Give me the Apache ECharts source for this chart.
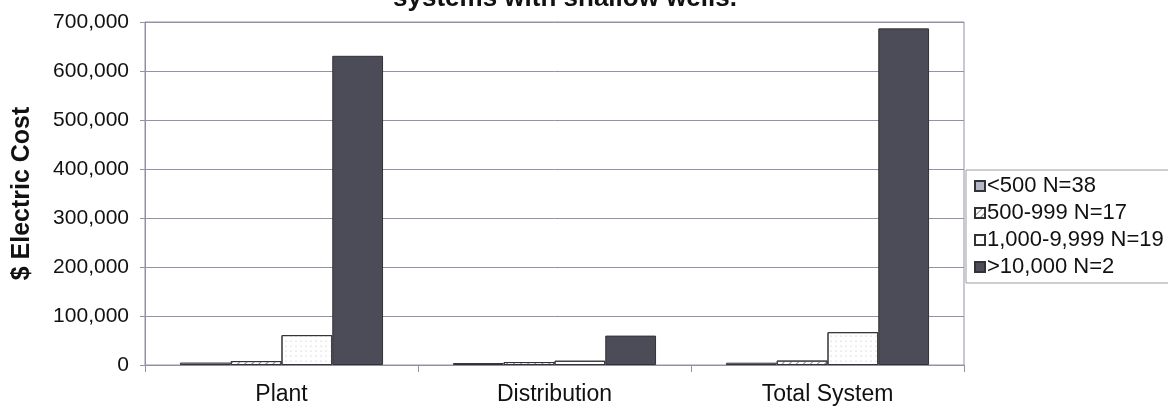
<!DOCTYPE html>
<html>
<head>
<meta charset="utf-8">
<script src="https://cdn.jsdelivr.net/npm/echarts@6/dist/echarts.min.js"></script>
<style>html,body{margin:0;padding:0;background:#fff}#c{width:1168px;height:416px}</style>
</head>
<body>
<div id="c"></div>
<script>
const categories = ['Plant', 'Distribution', 'Total System'];
const seriesNames = ['<500 N=38', '500-999 N=17', '1,000-9,999 N=19', '>10,000 N=2'];
const small = [5000, 4000, 4700];
const lower = [8000, 6000, 9000];
const middle = [61000, 8700, 67000];
const large = [631000, 60000, 687000];
const yTicks = [0, 100000, 200000, 300000, 400000, 500000, 600000, 700000];

const font = '"Liberation Sans", Arial, sans-serif';
const gridColor = '#9193a5';
const chart = echarts.init(document.getElementById('c'), null, {renderer: 'canvas'});
const mk = (name, data, style) => ({
  name, type: 'bar', data, barGap: '0%', barCategoryGap: '25.6%',
  itemStyle: style
});
chart.setOption({
  animation: false,
  title: {
    text: 'systems with shallow wells.',
    left: 560, textAlign: 'center', top: -19,
    textStyle: {fontFamily: font, fontWeight: 'bold', fontSize: 26, color: '#111'}
  },
  grid: {left: 145, right: 204, top: 22, bottom: 51, show: true, borderColor: gridColor, borderWidth: 1},
  legend: {
    orient: 'vertical', left: 966, top: 170,
    data: seriesNames,
    itemWidth: 10, itemHeight: 10, itemGap: 5,
    padding: [5, 8, 5, 8],
    borderColor: '#9a9aa8', borderWidth: 1,
    textStyle: {fontFamily: font, fontSize: 22, lineHeight: 22, color: '#111', padding: [0, 0, 0, -3]},
    icon: 'rect'
  },
  xAxis: {
    type: 'category', data: categories,
    axisLine: {lineStyle: {color: gridColor, width: 1}},
    axisTick: {show: true, alignWithLabel: false, length: 7, lineStyle: {color: gridColor}},
    axisLabel: {fontFamily: font, fontSize: 23, color: '#111', margin: 18}
  },
  yAxis: {
    type: 'value', min: yTicks[0], max: yTicks[yTicks.length - 1], interval: 100000,
    name: '$ Electric Cost', nameLocation: 'middle', nameGap: 110,
    nameTextStyle: {fontFamily: font, fontWeight: 'bold', fontSize: 25, color: '#111'},
    axisLine: {show: true, lineStyle: {color: gridColor}},
    axisTick: {show: true, length: 5, lineStyle: {color: gridColor}},
    splitLine: {lineStyle: {color: gridColor, width: 1}},
    axisLabel: {
      fontFamily: font, fontSize: 21, color: '#111', margin: 16,
      formatter: v => v.toLocaleString('en-US')
    }
  },
  series: [
    mk(seriesNames[0], small, {color: '#b5b7c8', borderColor: '#333', borderWidth: 1}),
    mk(seriesNames[1], lower, {color: '#ffffff', borderColor: '#333', borderWidth: 1,
      decal: {symbol: 'rect', color: '#888', dashArrayX: [1, 0], dashArrayY: [1, 4], rotation: -Math.PI / 4}}),
    mk(seriesNames[2], middle, {color: '#ffffff', borderColor: '#333', borderWidth: 1,
      decal: {symbol: 'circle', symbolSize: 0.5, color: '#aaa', dashArrayX: [[2, 3]], dashArrayY: [2, 3]}}),
    mk(seriesNames[3], large, {color: '#4b4c57', borderColor: '#333', borderWidth: 1})
  ]
});
</script>
</body>
</html>
